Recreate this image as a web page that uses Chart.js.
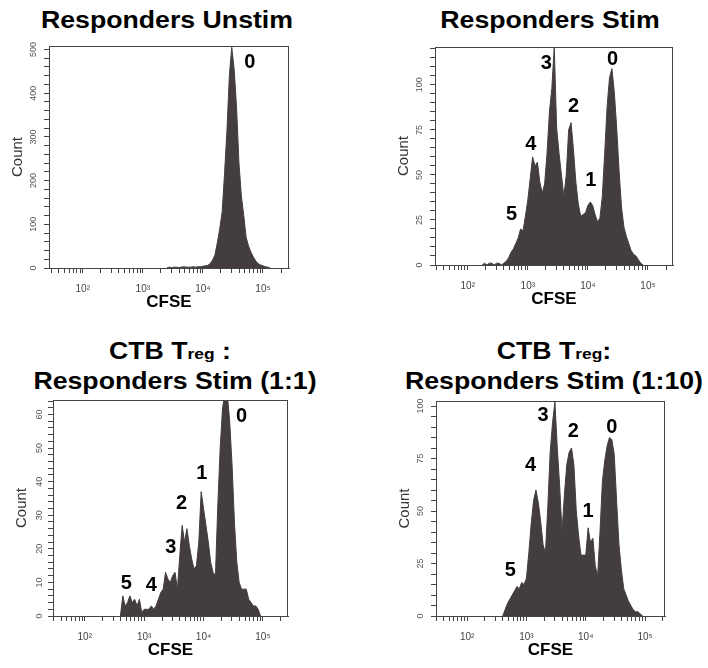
<!DOCTYPE html>
<html>
<head>
<meta charset="utf-8">
<title>CFSE dilution</title>
<style>
body { margin: 0; background: #fff; }
#wrap { position: relative; width: 708px; height: 668px; overflow: hidden; font-family: "Liberation Sans", Arial, sans-serif; }
.ttl { position: absolute; width: 400px; text-align: center; font-weight: bold; font-size: 23px; line-height: 23px; color: #000; white-space: nowrap; transform: scaleX(1.16); }
.ttl span { font-size: 15px; }
canvas { position: absolute; }
</style>
</head>
<body>
<div id="wrap">
	<div class="ttl" style="left:-33px; top:9px;">Responders Unstim</div>
	<div class="ttl" style="left:350px; top:9px;">Responders Stim</div>
	<div class="ttl" style="left:-30px; top:340px;">CTB T<span>reg</span> :</div>
	<div class="ttl" style="left:-25px; top:370px;">Responders Stim (1:1)</div>
	<div class="ttl" style="left:354px; top:340px;">CTB T<span>reg</span>:</div>
	<div class="ttl" style="left:354px; top:370px;">Responders Stim (1:10)</div>

	<canvas id="c1" width="295" height="280" style="left:4px; top:36px;"></canvas>
	<canvas id="c2" width="293" height="276" style="left:390px; top:37px;"></canvas>
	<canvas id="c3" width="290" height="274" style="left:8px; top:390px;"></canvas>
	<canvas id="c4" width="284" height="273" style="left:391px; top:391px;"></canvas>
</div>

<script src="https://cdn.jsdelivr.net/npm/chart.js@4.4.1/dist/chart.umd.min.js"></script>
<script>
// histogram bin centres, log10(CFSE)
var binExp = [
	2.20, 2.24, 2.28, 2.32, 2.36, 2.40, 2.44, 2.48, 2.52, 2.56,
	2.60, 2.64, 2.68, 2.72, 2.76, 2.80, 2.84, 2.88, 2.92, 2.96,
	3.00, 3.04, 3.08, 3.12, 3.16, 3.20, 3.24, 3.28, 3.32, 3.36,
	3.40, 3.44, 3.48, 3.52, 3.56, 3.60, 3.64, 3.68, 3.72, 3.76,
	3.80, 3.84, 3.88, 3.92, 3.96, 4.00, 4.04, 4.08, 4.12, 4.16,
	4.20, 4.24, 4.28, 4.32, 4.36, 4.40, 4.44, 4.48, 4.52, 4.56,
	4.60, 4.64, 4.68, 4.72, 4.76, 4.80, 4.84, 4.88, 4.92, 4.96,
	5.00, 5.04, 5.08, 5.12, 5.16
];

// counts per bin
var unstimCounts = [
	0, 0, 0, 0, 0, 0, 0, 0, 0, 0,
	0, 0, 0, 0, 0, 0, 0, 0, 0, 0,
	0, 0, 0, 0, 0, 0, 0, 0, 0, 0,
	0, 2, 1, 2, 2, 1, 2, 3, 2, 2,
	2, 3, 2, 3, 3, 4, 5, 6, 10, 18,
	30, 58, 90, 128, 216, 315, 440, 505, 455, 368,
	240, 165, 120, 70, 50, 36, 25, 16, 10, 7,
	5, 3, 2, 0, 0
];
var stimCounts = [
	0, 0, 1, 0, 1, 1, 0, 1, 1, 0,
	1, 2, 4, 7, 9, 12, 15, 20, 19, 27,
	36, 48, 60, 55, 57, 46, 40, 45, 62, 85,
	98, 121, 76, 62, 50, 38, 50, 75, 79, 64,
	46, 34, 27, 28, 29, 33, 35, 33, 28, 24,
	26, 38, 62, 88, 104, 109, 96, 76, 52, 32,
	21, 16, 12, 8, 6, 5, 3, 1, 0, 0,
	0, 0, 0, 0, 0
];
var treg1Counts = [
	0, 0, 0, 0, 0, 0, 0, 0, 0, 0,
	0, 6, 3, 4, 6, 4, 5, 3, 5, 1,
	2, 2, 2, 3, 2, 3, 5, 7, 8, 13,
	11, 10, 12, 13, 8, 18, 27, 22, 26, 21,
	17, 14, 15, 22, 37, 32, 27, 22, 16, 13,
	12, 33, 50, 62, 66, 66, 58, 45, 28, 16,
	10, 8, 8, 8, 5, 4, 3, 3, 2, 0,
	0, 0, 0, 0, 0
];
var treg10Counts = [
	0, 0, 0, 0, 0, 0, 0, 0, 0, 0,
	0, 3, 6, 8, 10, 12, 14, 13, 16, 15,
	18, 30, 44, 55, 60, 54, 45, 34, 30, 52,
	78, 92, 102, 80, 62, 40, 58, 72, 78, 80,
	72, 50, 38, 29, 29, 29, 42, 35, 37, 24,
	19, 40, 64, 74, 81, 85, 84, 77, 55, 34,
	22, 13, 10, 7, 5, 3, 2, 2, 1, 0,
	0, 0, 0, 0, 0
];

// x tick marks (CFSE) and decade labels
var xTickValues = [
	30, 40, 50, 60, 70, 80, 90,
	100, 200, 300, 400, 500, 600, 700, 800, 900,
	1000, 2000, 3000, 4000, 5000, 6000, 7000, 8000, 9000,
	10000, 20000, 30000, 40000, 50000, 60000, 70000, 80000, 90000,
	100000, 200000
];
var decadeTicks = [100, 1000, 10000, 100000];
var decadeLabels = ['10\u00b2', '10\u00b3', '10\u2074', '10\u2075'];

// division number labels (text, log10 CFSE, count)
var unstimPeakText = ['0'];
var unstimPeakExp = [4.78];
var unstimPeakCount = [470];
var stimPeakText = ['0', '1', '2', '3', '4', '5'];
var stimPeakExp = [4.41, 4.05, 3.76, 3.31, 3.05, 2.73];
var stimPeakCount = [114, 47, 88, 112, 67, 28];
var treg1PeakText = ['0', '1', '2', '3', '4', '5'];
var treg1PeakExp = [4.64, 3.97, 3.63, 3.45, 3.12, 2.70];
var treg1PeakCount = [59.3, 42.5, 33.5, 20.3, 9, 9.7];
var treg10PeakText = ['0', '1', '2', '3', '4', '5'];
var treg10PeakExp = [4.44, 4.04, 3.79, 3.28, 3.07, 2.73];
var treg10PeakCount = [90, 49.7, 88, 95.7, 71.6, 21.9];

var FONT = '"Liberation Sans", Arial, sans-serif';
var AXIS_COL = '#444';
var FILL_COL = '#433e3d';
Chart.defaults.font.family = FONT;

// box round the plot and the division numbers
var framePlugin = {
	id: 'frame',
	afterDatasetsDraw: function(chart, args, opts) {
		var ctx = chart.ctx;
		var a = chart.chartArea;
		ctx.save();
		ctx.strokeStyle = AXIS_COL;
		ctx.lineWidth = 1;
		ctx.strokeRect(a.left + 0.5, a.top + 0.5, a.right - a.left - 1, a.bottom - a.top);
		ctx.font = 'bold 20px ' + FONT;
		ctx.fillStyle = '#000';
		ctx.textAlign = 'center';
		ctx.textBaseline = 'middle';
		for (var i = 0; i < opts.text.length; i++) {
			var px = chart.scales.x.getPixelForValue(Math.pow(10, opts.xs[i]));
			var py = chart.scales.y.getPixelForValue(opts.ys[i]);
			ctx.fillText(opts.text[i], px, py);
		}
		ctx.restore();
	}
};

function makeChart(id, counts, xMinExp, xMaxExp, yMax, yStep, yLabelStep, peakText, peakExp, peakCount) {
	var pts = [];
	for (var i = 0; i < binExp.length; i++) {
		pts.push({x: Math.pow(10, binExp[i]), y: counts[i]});
	}
	return new Chart(document.getElementById(id), {
		type: 'line',
		data: {
			datasets: [{
				data: pts,
				fill: 'origin',
				backgroundColor: FILL_COL,
				borderColor: FILL_COL,
				borderWidth: 1,
				pointRadius: 0,
				tension: 0,
				// no outline along empty stretches of the baseline
				segment: {
					borderColor: function(c) {
						return (c.p0.parsed.y === 0 && c.p1.parsed.y === 0) ? 'rgba(0,0,0,0)' : undefined;
					}
				}
			}]
		},
		options: {
			responsive: false,
			animation: false,
			devicePixelRatio: 1,
			layout: {padding: {left: 5, top: 10, right: 10, bottom: 0}},
			plugins: {
				legend: {display: false},
				tooltip: {enabled: false},
				frame: {text: peakText, xs: peakExp, ys: peakCount}
			},
			scales: {
				x: {
					type: 'logarithmic',
					min: Math.pow(10, xMinExp),
					max: Math.pow(10, xMaxExp),
					afterBuildTicks: function(scale) {
						scale.ticks = xTickValues.filter(function(v) {
							return v >= scale.min && v <= scale.max;
						}).map(function(v) { return {value: v}; });
					},
					afterFit: function(scale) { scale.height = 48; },
					grid: {drawOnChartArea: false, drawTicks: true, tickLength: 5, color: AXIS_COL},
					border: {color: AXIS_COL},
					ticks: {
						autoSkip: false,
						maxRotation: 0,
						padding: 10,
						color: '#444',
						font: {size: 10},
						callback: function(v) {
							var k = decadeTicks.indexOf(v);
							return k >= 0 ? decadeLabels[k] : '';
						}
					},
					title: {display: true, text: 'CFSE', color: '#000', font: {size: 17, weight: 'bold'}, padding: {top: 0, bottom: 3}}
				},
				y: {
					min: 0,
					max: yMax,
					afterFit: function(scale) { scale.width = 40; },
					grid: {drawOnChartArea: false, drawTicks: true, tickLength: 5, color: AXIS_COL},
					border: {color: AXIS_COL},
					ticks: {
						stepSize: yStep,
						includeBounds: false,
						autoSkip: false,
						minRotation: 90,
						maxRotation: 90,
						crossAlign: 'center',
						padding: 3,
						color: '#555',
						font: {size: 9},
						callback: function(v) { return v % yLabelStep === 0 ? v : ''; }
					},
					title: {display: true, text: 'Count', color: '#333', font: {size: 15}, padding: {top: 0, bottom: 0}}
				}
			}
		},
		plugins: [framePlugin]
	});
}

makeChart('c1', unstimCounts, 1.438, 5.433, 508, 20, 100, unstimPeakText, unstimPeakExp, unstimPeakCount);
makeChart('c2', stimCounts, 1.455, 5.417, 121, 5, 25, stimPeakText, stimPeakExp, stimPeakCount);
makeChart('c3', treg1Counts, 1.465, 5.422, 64.3, 2, 10, treg1PeakText, treg1PeakExp, treg1PeakCount);
makeChart('c4', treg10Counts, 1.475, 5.336, 102.4, 5, 25, treg10PeakText, treg10PeakExp, treg10PeakCount);
</script>
</body>
</html>
